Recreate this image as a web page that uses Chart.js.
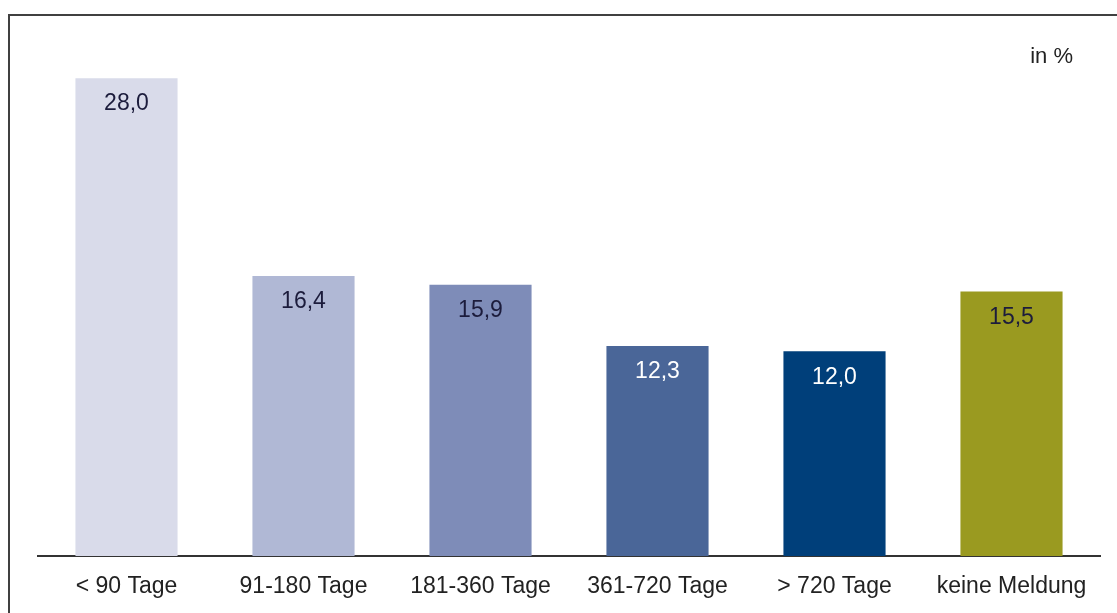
<!DOCTYPE html>
<html>
<head>
<meta charset="utf-8">
<script src="https://cdn.jsdelivr.net/npm/chart.js@4"></script>
<style>
  html, body { margin: 0; padding: 0; background: #fff; overflow: hidden; }
  #wrap { position: relative; width: 1117px; height: 613px; }
  #frame { position: absolute; left: 8px; top: 14px; width: 1120px; height: 620px;
           border: 2px solid #404040; box-sizing: border-box; pointer-events: none; }
</style>
</head>
<body>
<div id="wrap">
  <canvas id="myChart" width="1117" height="613"></canvas>
  <div id="frame"></div>
</div>
<script>
const categories = ['< 90 Tage', '91-180 Tage', '181-360 Tage', '361-720 Tage', '> 720 Tage', 'keine Meldung'];
const values = [28.0, 16.4, 15.9, 12.3, 12.0, 15.5];
const barColors = ['#d9dbea', '#b0b8d5', '#7e8cb8', '#4a6698', '#003f7a', '#9a9a20'];
const labelColors = ['#1c1c3c', '#1c1c3c', '#1c1c3c', '#ffffff', '#ffffff', '#1c1c3c'];
const unitLabel = 'in %';

const FONT = '"Liberation Sans", Arial, sans-serif';

// writes the value inside the top of each bar, plus the unit note
const valueLabels = {
    id: 'valueLabels',
    afterDatasetsDraw(chart) {
        const ctx = chart.ctx;
        const meta = chart.getDatasetMeta(0);
        ctx.save();
        ctx.font = '23px ' + FONT;
        ctx.textAlign = 'center';
        ctx.textBaseline = 'middle';
        meta.data.forEach((bar, i) => {
            ctx.fillStyle = labelColors[i];
            ctx.fillText(values[i].toFixed(1).replace('.', ','), bar.x, bar.y + 26);
        });
        ctx.fillStyle = '#222';
        ctx.textAlign = 'right';
        ctx.font = '22px ' + FONT;
        ctx.fillText(unitLabel, 1073, 57);
        ctx.restore();
    }
};

const ctx = document.getElementById('myChart').getContext('2d');
let myChart = new Chart(ctx, {
    type: 'bar',
    data: {
        labels: categories,
        datasets: [{
            data: values,
            backgroundColor: barColors,
            borderWidth: 0,
            categoryPercentage: 1,
            barPercentage: 0.577
        }]
    },
    options: {
        responsive: false,
        animation: false,
        layout: { padding: { left: 38, right: 17, top: 44, bottom: 0 } },
        plugins: {
            legend: { display: false },
            tooltip: { enabled: false }
        },
        scales: {
            x: {
                grid: { display: false },
                border: { color: '#333', width: 2 },
                ticks: { color: '#222', font: { family: FONT, size: 23 }, padding: 9 },
                afterFit: s => { s.height = 57; }
            },
            y: {
                display: false,
                min: 0,
                max: 30
            }
        }
    },
    plugins: [valueLabels]
});
</script>
</body>
</html>
